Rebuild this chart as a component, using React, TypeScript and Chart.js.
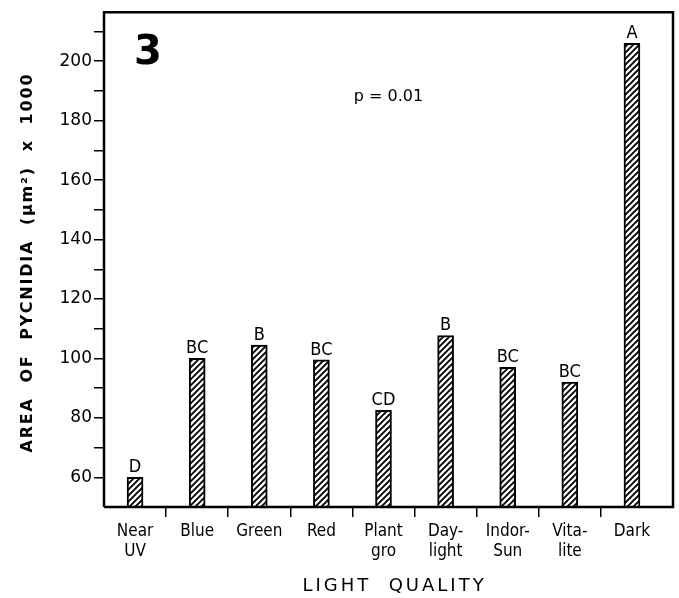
import React, { useEffect, useRef } from "react";
import { Chart, registerables } from "chart.js";
Chart.register(...registerables);

// ---- data ----
const categories: string[][] = [
  ["Near", "UV"],
  ["Blue"],
  ["Green"],
  ["Red"],
  ["Plant", "gro"],
  ["Day-", "light"],
  ["Indor-", "Sun"],
  ["Vita-", "lite"],
  ["Dark"],
];
const areaValues = [60, 100, 104.5, 99.5, 82.5, 107.7, 97, 92, 206];
const groupLetters = ["D", "BC", "B", "BC", "CD", "B", "BC", "BC", "A"];
const yMin = 50;
const yMax = 216.5;
const yStep = 10;
const yLabelStep = 20;
const panelNumber = "3";
const pLabel = "p = 0.01";
const yTitle = "AREA  OF  PYCNIDIA  (\u03BCm\u00B2)  x  1000";
const xTitle = "LIGHT  QUALITY";

const FONT = "'DejaVu Sans Condensed', 'DejaVu Sans', sans-serif";

function makeHatch(): CanvasPattern | string {
  const c = document.createElement("canvas");
  const s = 6;
  c.width = s;
  c.height = s;
  const g = c.getContext("2d");
  if (!g) return "#fff";
  g.fillStyle = "#fff";
  g.fillRect(0, 0, s, s);
  g.strokeStyle = "#000";
  g.lineWidth = 1.9;
  g.beginPath();
  g.moveTo(-1, s + 1);
  g.lineTo(s + 1, -1);
  g.moveTo(-1, 1);
  g.lineTo(1, -1);
  g.moveTo(s - 1, s + 1);
  g.lineTo(s + 1, s - 1);
  g.stroke();
  const p = g.createPattern(c, "repeat");
  return p || "#fff";
}

const xTickColor = (c: any) =>
  typeof c.index === "number" && c.index >= 1 && c.index < categories.length
    ? "#000"
    : "rgba(0,0,0,0)";

const annotate = {
  id: "annotate",
  afterDraw(chart: any) {
    const { ctx, chartArea: a } = chart;
    const ext = 10;
    ctx.save();
    // frame
    ctx.strokeStyle = "#000";
    ctx.lineWidth = 2.5;
    ctx.beginPath();
    ctx.moveTo(a.left, a.bottom);
    ctx.lineTo(a.left, a.top);
    ctx.lineTo(a.right + ext, a.top);
    ctx.lineTo(a.right + ext, a.bottom);
    ctx.lineTo(a.left, a.bottom);
    ctx.stroke();

    // significance letters
    const meta = chart.getDatasetMeta(0);
    ctx.fillStyle = "#000";
    ctx.font = `18px ${FONT}`;
    ctx.textAlign = "center";
    ctx.textBaseline = "bottom";
    meta.data.forEach((el: any, i: number) => {
      ctx.fillText(groupLetters[i], el.x, el.y - 1);
    });

    // panel number
    ctx.font = `bold 40px 'DejaVu Sans', sans-serif`;
    ctx.textAlign = "left";
    ctx.textBaseline = "alphabetic";
    ctx.fillText(panelNumber, a.left + 30, a.top + 52);

    // p value
    const cx = (a.left + a.right + ext) / 2;
    ctx.font = `16px 'DejaVu Sans', sans-serif`;
    ctx.textAlign = "center";
    ctx.textBaseline = "middle";
    ctx.fillText(pLabel, cx, a.top + 85);

    // x title
    ctx.font = `18px 'DejaVu Sans', sans-serif`;
    (ctx as any).letterSpacing = "3px";
    ctx.fillText(xTitle, cx + 6, 586);

    // y title
    ctx.font = `bold 16px 'DejaVu Sans', sans-serif`;
    (ctx as any).letterSpacing = "1.8px";
    ctx.translate(28, (a.top + a.bottom) / 2 + 3);
    ctx.rotate(-Math.PI / 2);
    ctx.fillText(yTitle, 0, 0);
    ctx.restore();
  },
};

export default function App() {
  const ref = useRef<HTMLCanvasElement | null>(null);
  useEffect(() => {
    if (!ref.current) return;
    const hatch = makeHatch();
    const chart = new Chart(ref.current, {
      type: "bar",
      data: {
        labels: categories as any,
        datasets: [
          {
            data: areaValues,
            base: yMin,
            backgroundColor: hatch as any,
            borderColor: "#000",
            borderWidth: 2,
            borderSkipped: "bottom",
            barThickness: 16,
          } as any,
        ],
      },
      options: {
        animation: false,
        responsive: false,
        maintainAspectRatio: false,
        layout: { padding: { left: 0, top: 5, right: 16, bottom: 0 } },
        plugins: {
          legend: { display: false },
          tooltip: { enabled: false },
        },
        scales: {
          x: {
            type: "category",
            offset: true,
            border: { display: false },
            grid: {
              offset: true,
              drawOnChartArea: false,
              drawTicks: true,
              tickLength: 10,
              lineWidth: 1.5,
              color: xTickColor,
              tickColor: xTickColor,
            },
            ticks: {
              color: "#000",
              font: { family: FONT, size: 17 },
              padding: 4,
              maxRotation: 0,
              autoSkip: false,
            },
            afterFit: (s: any) => {
              s.height = 91;
            },
          },
          y: {
            min: yMin,
            max: yMax,
            border: { display: false },
            grid: {
              drawOnChartArea: false,
              drawTicks: true,
              tickLength: 10,
              lineWidth: 1.5,
              color: (c: any) => (c.tick && c.tick.value === yMin ? "rgba(0,0,0,0)" : "#000"),
            },
            ticks: {
              stepSize: yStep,
              includeBounds: false,
              color: "#000",
              padding: 2,
              font: { family: "'DejaVu Sans', sans-serif", size: 17 },
              callback: (v: any) =>
                Number(v) % yLabelStep === 0 && Number(v) > yMin ? String(v) : "",
            },
            afterFit: (s: any) => {
              s.width = 104;
            },
          },
        },
      },
      plugins: [annotate],
    });
    return () => chart.destroy();
  }, []);
  return (
    <div style={{ position: "absolute", left: 0, top: 0, width: 679, height: 598, background: "#fff" }}>
      <canvas ref={ref} width={679} height={598} style={{ display: "block" }} />
    </div>
  );
}
